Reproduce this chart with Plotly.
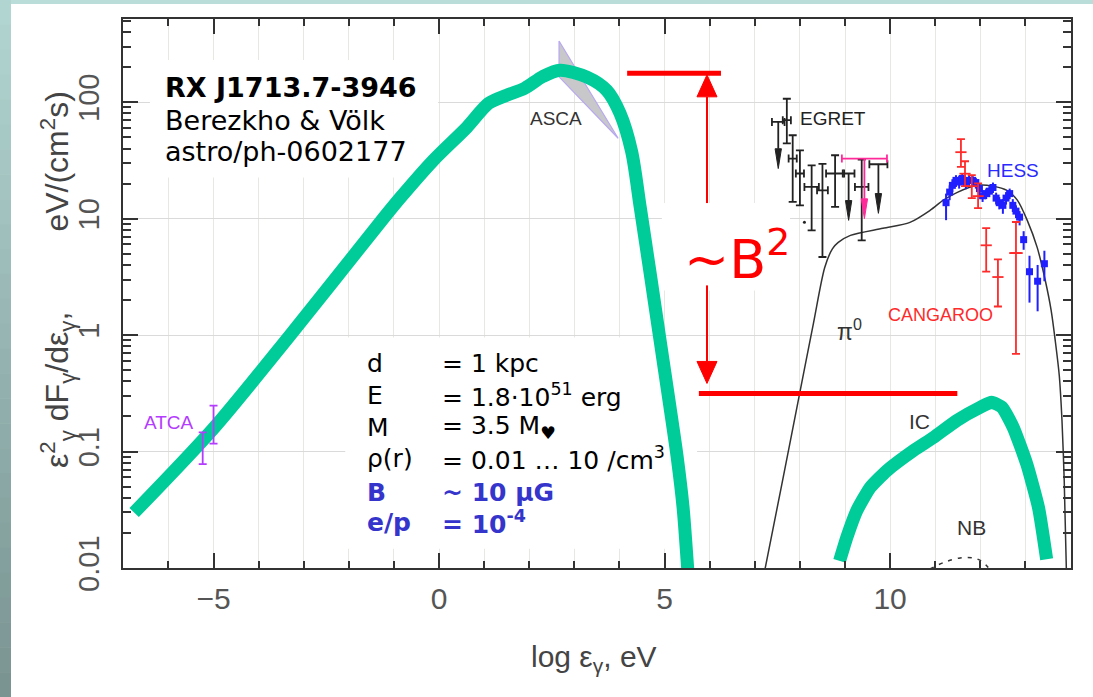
import math
import plotly.graph_objects as go

# ---------------- model curves: x = log10(eps / eV), y = eps^2 dF/deps [eV/(cm^2 s)] ----------------
sync_logE = [-6.76, -5.0, -3.3, -1.24, -0.86, -0.13, 0.62, 1.1, 1.5, 1.9, 2.3, 2.68, 3.28, 3.72,
             4.01, 4.27, 4.46, 4.68, 4.90, 5.12, 5.28, 5.41, 5.50, 5.53]
sync_flux = [0.0299, 0.158, 1.0, 10.0, 15.1, 31.6, 61.0, 97.7, 114.8, 131.8, 166.0, 188.0, 164.0, 126.0,
             80.4, 37.6, 12.5, 3.39, 0.90, 0.24, 0.089, 0.033, 0.0115, 0.0079]

ic_logE = [8.88, 9.04, 9.26, 9.56, 9.93, 10.52, 10.96, 11.48, 12.0, 12.25, 12.48, 12.73, 13.03, 13.29, 13.47]
ic_flux = [0.0115, 0.0183, 0.031, 0.0492, 0.0686, 0.102, 0.132, 0.185, 0.240, 0.265, 0.240, 0.161,
           0.078, 0.033, 0.0119]

pi0_logE = [7.2, 7.6, 8.0, 8.3, 8.55, 8.72, 8.85, 9.12, 9.84, 10.44, 10.89, 11.18, 11.49, 11.93,
            12.28, 12.59, 12.82, 13.04, 13.26, 13.44, 13.57, 13.66, 13.75, 13.81, 13.86, 13.91]
pi0_flux = [0.0087, 0.0525, 0.324, 1.26, 3.80, 5.50, 6.25, 7.18, 8.26, 9.29, 11.8, 14.4, 16.8, 19.3,
            19.0, 17.5, 14.4, 9.66, 5.66, 2.94, 1.63, 0.90, 0.45, 0.185, 0.056, 0.0087]

nb_logE = [10.88, 11.2, 11.55, 11.85, 12.05, 12.2]
nb_flux = [0.0098, 0.0112, 0.0122, 0.0122, 0.0113, 0.0098]

# ASCA band (bow-tie)
asca_logE = [2.66, 3.97, 2.66, 2.66]
asca_flux = [335.0, 49.0, 165.0, 335.0]

# ---------------- measurements ----------------
atca_logE = [-5.0, -5.24]
atca_flux = [0.17, 0.107]
atca_hi = [0.248, 0.146]
atca_lo = [0.117, 0.078]

egret_logE = [7.71, 7.84, 8.00, 8.26, 8.50, 8.78, 9.37]
egret_flux = [70.0, 32.8, 24.4, 18.7, 17.5, 24.4, 18.7]
egret_hi = [107.0, 52.0, 38.6, 28.7, 29.5, 35.0, 32.1]
egret_lo = [44.2, 13.9, 13.0, 7.94, 4.68, 12.6, 6.5]
egret_dx = [0.09, 0.09, 0.09, 0.16, 0.12, 0.20, 0.15]

egret_ul_logE = [7.52, 9.08, 9.74]
egret_ul_flux = [67.7, 24.4, 29.3]
egret_ul_dx = [0.14, 0.13, 0.20]
egret_ul_tip = [26.9, 9.66, 11.1]

egret_dot_logE = [8.10]
egret_dot_flux = [9.3]

pink_ul_logE = [9.43]
pink_ul_flux = [32.8]
pink_ul_dx = [0.50]
pink_ul_tip = [10.0]

hess_logE = [11.24, 11.32, 11.38, 11.46, 11.53, 11.60, 11.68, 11.75, 11.83, 11.90, 11.98, 12.05, 12.13,
             12.20, 12.28, 12.35, 12.42, 12.50, 12.57, 12.65, 12.72, 12.79, 12.87, 12.96, 13.09, 13.27, 13.42]
hess_flux = [13.7, 16.9, 19.3, 21.3, 20.6, 22.1, 20.4, 21.3, 21.3, 20.4, 18.1, 15.7, 16.4,
             17.2, 18.5, 15.0, 13.7, 13.0, 15.0, 16.4, 13.0, 11.6, 10.3, 6.6, 3.5, 2.9, 4.1]
hess_hi = [16.4, 19.3, 21.8, 23.6, 23.3, 24.4, 22.8, 23.6, 23.6, 22.3, 20.0, 17.5, 18.1,
           19.0, 20.4, 16.7, 15.3, 14.7, 16.9, 18.1, 14.7, 13.0, 11.6, 7.8, 4.8, 4.0, 5.3]
hess_lo = [9.7, 14.4, 16.9, 18.7, 18.1, 19.6, 17.9, 19.0, 19.1, 18.1, 15.8, 13.9, 14.7,
           15.3, 16.6, 13.2, 12.0, 11.0, 13.2, 14.7, 11.4, 10.1, 8.75, 5.4, 1.9, 1.6, 2.9]

cang_logE = [11.57, 11.66, 11.81, 11.95, 12.13, 12.39, 12.79]
cang_flux = [37.2, 24.3, 19.0, 15.6, 5.9, 3.15, 5.06]
cang_hi = [48.1, 31.1, 23.6, 20.1, 8.3, 4.47, 9.35]
cang_lo = [27.8, 19.0, 15.0, 12.3, 3.5, 1.76, 0.69]
cang_dx = [0, 0, 0, 0, 0, 0, 0.15]

# ---------------- "~B^2" scaling bracket ----------------
b2_upper_level = 177.0      # top bar
b2_upper_span = [4.17, 6.25]
b2_lower_level = 0.315      # bottom bar
b2_lower_span = [5.76, 11.49]
b2_arrow_x = 5.94
b2_gap = [13.6, 2.67]       # arrow interrupted by the label between these fluxes

# axis ticks
x_tickvals = [-5, 0, 5, 10]
x_ticktext = ["\u22125", "0", "5", "10"]
y_tickvals = [0.01, 0.1, 1, 10, 100]
y_ticktext = ["0.01", "0.1", "1", "10", "100"]

GREEN = "#00cc99"
RED = "#ff0000"
INK = "#333333"
SANS = "Liberation Sans, Arial, sans-serif"
VERDANA = "DejaVu Sans, Verdana, sans-serif"


def err_plus(v, hi):
    return [h - y for y, h in zip(v, hi)]


def err_minus(v, lo):
    return [y - l for y, l in zip(v, lo)]


def arrow_head(x, tip, pointing, half_w, h_dex):
    """Triangle arrowhead in data units: tip value, half-width in log E, height in decades."""
    base = tip * 10 ** h_dex if pointing == "down" else tip / 10 ** h_dex
    return [x - half_w, x, x + half_w, x - half_w], [base, tip, base, base]


fig = go.Figure()

# ASCA band
fig.add_trace(go.Scatter(x=asca_logE, y=asca_flux, mode="lines", fill="toself",
                         fillcolor="#c8c8ca", line=dict(color="#b8a8f0", width=1.2)))

# pi0 decay model
fig.add_trace(go.Scatter(x=pi0_logE, y=pi0_flux, mode="lines",
                         line=dict(color=INK, width=1.5, shape="spline", smoothing=0.8)))

# non-thermal bremsstrahlung
fig.add_trace(go.Scatter(x=nb_logE, y=nb_flux, mode="lines",
                         line=dict(color=INK, width=1.5, dash="4px,6px", shape="spline")))

# inverse Compton
fig.add_trace(go.Scatter(x=ic_logE, y=ic_flux, mode="lines",
                         line=dict(color=GREEN, width=13, shape="spline", smoothing=0.5)))

# synchrotron
fig.add_trace(go.Scatter(x=sync_logE, y=sync_flux, mode="lines",
                         line=dict(color=GREEN, width=13, shape="spline", smoothing=0.8)))

# ATCA
fig.add_trace(go.Scatter(x=atca_logE, y=atca_flux, mode="markers", marker=dict(size=1, color="#b43cff"),
                         error_y=dict(type="data", symmetric=False, array=err_plus(atca_flux, atca_hi),
                                      arrayminus=err_minus(atca_flux, atca_lo), color="#b43cff",
                                      thickness=1.8, width=4)))

# EGRET detections
fig.add_trace(go.Scatter(x=egret_logE, y=egret_flux, mode="markers", marker=dict(size=1, color="#222"),
                         error_y=dict(type="data", symmetric=False, array=err_plus(egret_flux, egret_hi),
                                      arrayminus=err_minus(egret_flux, egret_lo), color="#222",
                                      thickness=1.8, width=4),
                         error_x=dict(type="data", array=egret_dx, color="#222", thickness=1.8, width=4)))
fig.add_trace(go.Scatter(x=egret_dot_logE, y=egret_dot_flux, mode="markers", marker=dict(size=3, color="#222")))

# EGRET and pink upper limits
for xs, ys, dxs, tips, col in [(egret_ul_logE, egret_ul_flux, egret_ul_dx, egret_ul_tip, "#222"),
                               (pink_ul_logE, pink_ul_flux, pink_ul_dx, pink_ul_tip, "#ff2a9a")]:
    fig.add_trace(go.Scatter(x=xs, y=ys, mode="markers", marker=dict(size=1, color=col),
                             error_x=dict(type="data", array=dxs, color=col, thickness=1.8, width=4)))
    for x, y, tip in zip(xs, ys, tips):
        hx, hy = arrow_head(x, tip, "down", 0.07, 0.17)
        fig.add_trace(go.Scatter(x=[x, x], y=[y, hy[0]], mode="lines", line=dict(color=col, width=1.8)))
        fig.add_trace(go.Scatter(x=hx, y=hy, mode="lines", fill="toself", fillcolor=col,
                                 line=dict(color=col, width=1)))

# HESS
fig.add_trace(go.Scatter(x=hess_logE, y=hess_flux, mode="markers",
                         marker=dict(symbol="square", size=7, color="#1f1fff"),
                         error_y=dict(type="data", symmetric=False, array=err_plus(hess_flux, hess_hi),
                                      arrayminus=err_minus(hess_flux, hess_lo), color="#1f1fff",
                                      thickness=2, width=0)))

# CANGAROO
fig.add_trace(go.Scatter(x=cang_logE, y=cang_flux, mode="markers",
                         marker=dict(symbol="line-ew", size=8, line=dict(color="#ff2a2a", width=1.8)),
                         error_y=dict(type="data", symmetric=False, array=err_plus(cang_flux, cang_hi),
                                      arrayminus=err_minus(cang_flux, cang_lo), color="#ff2a2a",
                                      thickness=1.8, width=4),
                         error_x=dict(type="data", array=cang_dx, color="#ff2a2a", thickness=1.8, width=0)))

# ~B^2 bracket: two bars and a double arrow broken by the label
fig.add_trace(go.Scatter(x=b2_upper_span, y=[b2_upper_level] * 2, mode="lines", line=dict(color=RED, width=5)))
fig.add_trace(go.Scatter(x=b2_lower_span, y=[b2_lower_level] * 2, mode="lines", line=dict(color=RED, width=5)))
up_x, up_y = arrow_head(b2_arrow_x, b2_upper_level * 0.97, "up", 0.222, 0.189)
dn_x, dn_y = arrow_head(b2_arrow_x, b2_lower_level * 1.22, "down", 0.222, 0.189)
fig.add_trace(go.Scatter(x=[b2_arrow_x, b2_arrow_x], y=[up_y[0], b2_gap[0]], mode="lines",
                         line=dict(color=RED, width=2)))
fig.add_trace(go.Scatter(x=[b2_arrow_x, b2_arrow_x], y=[b2_gap[1], dn_y[0]], mode="lines",
                         line=dict(color=RED, width=2)))
for hx, hy in [(up_x, up_y), (dn_x, dn_y)]:
    fig.add_trace(go.Scatter(x=hx, y=hy, mode="lines", fill="toself", fillcolor=RED,
                             line=dict(color=RED, width=1)))

for tr in fig.data:
    tr.hoverinfo = "skip"

# ---------------- white panels behind the text blocks ----------------
panels = [(-6.41, -0.02, 22.6, 229.6), (-2.08, 5.72, 0.0146, 0.955), (4.94, 7.78, 2.42, 13.6)]
for x0, x1, y0, y1 in panels:
    fig.add_shape(type="rect", xref="x", yref="y", x0=x0, x1=x1, y0=y0, y1=y1,
                  fillcolor="white", line=dict(width=0), layer="between")

# ---------------- slide border (teal strip along top and left) ----------------
L, R, T, B = -123 / 948, 970 / 948, 568 / 549, -129 / 549
fig.add_shape(type="rect", xref="paper", yref="paper", x0=L, x1=R, y0=(568 - 4) / 549, y1=T,
              fillcolor="rgb(186,221,217)", line=dict(width=0), layer="above")
nb = 28
top_c, bot_c = (178, 214, 210), (121, 147, 145)
for i in range(nb):
    f = (i + 0.5) / nb
    c = tuple(round(a + (b - a) * f) for a, b in zip(top_c, bot_c))
    y1 = T - (T - B) * i / nb
    y0 = T - (T - B) * (i + 1) / nb
    fig.add_shape(type="rect", xref="paper", yref="paper", x0=L, x1=(11 - 123) / 948, y0=y0 - 0.001, y1=y1,
                  fillcolor="rgb(%d,%d,%d)" % c, line=dict(width=0), layer="above")

# ---------------- text ----------------
ann = []


def label(text, x, y, color, size=19, family=SANS, xanchor="left"):
    ann.append(dict(text=text, x=x, y=math.log10(y), xref="x", yref="y", showarrow=False,
                    xanchor=xanchor, yanchor="middle", font=dict(family=family, size=size, color=color)))


label("EGRET", 7.96, 72.8, "#222")
label("ASCA", 1.97, 72.8, "#333")
label("HESS", 12.11, 26.0, "#2a2aff")
label("CANGAROO", 9.91, 1.48, "#ff2a2a", size=18)
label("ATCA", -6.59, 0.178, "#b43cff")
label("IC", 10.38, 0.182, "#333", size=21)
label("NB", 11.44, 0.0222, "#333", size=21)
label("\u03c0<sup>0</sup>", 8.78, 1.1, "#333", size=23)

label("<b>RX J1713.7-3946</b>", -6.12, 134.6, "#000", size=27, family=VERDANA)
label("Berezkho &amp; Völk", -6.12, 70.0, "#000", size=27, family=VERDANA)
label("astro/ph-0602177", -6.12, 37.9, "#000", size=27, family=VERDANA)

param_names = ["d", "E", "M", "\u03c1(r)", "<b>B</b>", "<b>e/p</b>"]
param_values = ["= 1 kpc", "= 1.8\u00b710<sup>51</sup> erg", "= 3.5 M<sub>\u2665</sub>",
                "= 0.01 \u2026 10 /cm<sup>3</sup>", "<b>~ 10 \u03bcG</b>", "<b>= 10<sup>-4</sup></b>"]
param_rows = [0.570, 0.303, 0.161, 0.0869, 0.0444, 0.0245]
param_colors = ["#000", "#000", "#000", "#000", "#3535cc", "#3535cc"]
for name, val, yv, col in zip(param_names, param_values, param_rows, param_colors):
    label(name, -1.64, yv, col, size=25, family=VERDANA)
    label(val, 0.02, yv, col, size=25, family=VERDANA)

label("~B<sup>2</sup>", 6.6, 4.83, RED, size=54, family=VERDANA, xanchor="center")

# axis titles
ann.append(dict(text="log \u03b5<sub>\u03b3</sub>, eV", x=(594 - 123) / 948, y=(568 - 658) / 549,
                xref="paper", yref="paper", showarrow=False, xanchor="center", yanchor="middle",
                font=dict(family=SANS, size=30, color="#444")))
ann.append(dict(text="\u03b5<sup>2</sup><sub>\u03b3</sub> dF<sub>\u03b3</sub>/d\u03b5<sub>\u03b3</sub>,"
                     + "\u00a0" * 9 + "eV/(cm<sup>2</sup>s)",
                x=(57 - 123) / 948, y=(568 - 280) / 549, xref="paper", yref="paper", showarrow=False,
                xanchor="center", yanchor="middle", textangle=-90,
                font=dict(family=SANS, size=32, color="#444")))

fig.update_layout(
    width=1093, height=697,
    margin=dict(l=123, r=22, t=19, b=129),
    paper_bgcolor="white", plot_bgcolor="white",
    showlegend=False,
    annotations=ann,
    xaxis=dict(range=[-7.007, 14.01], tickmode="array", tickvals=x_tickvals, ticktext=x_ticktext,
               ticks="inside", ticklen=15, tickwidth=1.5, tickcolor=INK,
               showline=True, linecolor=INK, linewidth=2, mirror="allticks", zeroline=False,
               showgrid=True, gridcolor="#e8e8e2", gridwidth=1,
               tickfont=dict(family=SANS, size=30, color="#555"), ticklabelstandoff=3,
               minor=dict(tickmode="linear", tick0=0, dtick=1, ticks="inside", ticklen=7, tickwidth=1.5,
                          tickcolor=INK, showgrid=True, gridcolor="#e8e8e2", gridwidth=1)),
    yaxis=dict(type="log", range=[-2, 2.714], tickmode="array", tickvals=y_tickvals, ticktext=y_ticktext,
               ticks="inside", ticklen=15, tickwidth=1.5, tickcolor=INK, tickangle=-90,
               showline=True, linecolor=INK, linewidth=2, mirror="allticks", zeroline=False,
               showgrid=True, gridcolor="#dadada", gridwidth=1,
               tickfont=dict(family=SANS, size=29, color="#555"), ticklabelstandoff=10,
               minor=dict(tickmode="array",
                          tickvals=[m * 10.0 ** e for e in range(-2, 3) for m in range(2, 10)],
                          ticks="inside", ticklen=8, tickwidth=1.5, tickcolor=INK, showgrid=False)),
)

fig.write_html("out.html")
